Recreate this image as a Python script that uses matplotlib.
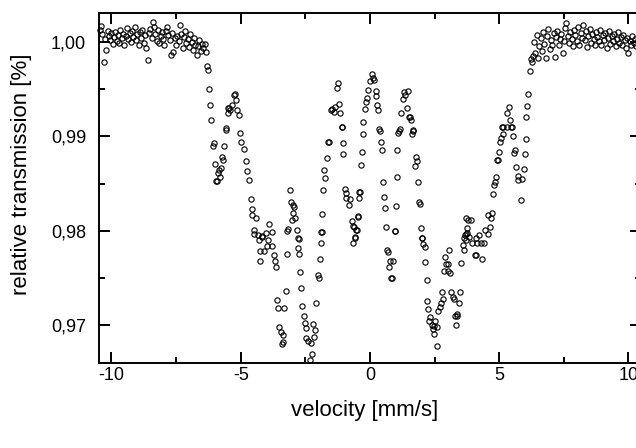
import numpy as np
import matplotlib
matplotlib.use("Agg")
import matplotlib.pyplot as plt
from matplotlib.ticker import MultipleLocator, FuncFormatter

plt.rcParams['font.family'] = ['Liberation Sans', 'DejaVu Sans']

# ---------------- data ----------------
# left baseline, -10.45 ... -6.40 mm/s
vel_left = [-10.45, -10.40, -10.35, -10.30, -10.25, -10.20, -10.15, -10.10, -10.05, -10.00,
            -9.95, -9.90, -9.85, -9.80, -9.75, -9.70, -9.65, -9.60, -9.55, -9.50,
            -9.45, -9.40, -9.35, -9.30, -9.25, -9.20, -9.15, -9.10, -9.05, -9.00,
            -8.95, -8.90, -8.85, -8.80, -8.75, -8.70, -8.65, -8.60, -8.55, -8.50,
            -8.45, -8.40, -8.35, -8.30, -8.25, -8.20, -8.15, -8.10, -8.05, -8.00,
            -7.95, -7.90, -7.85, -7.80, -7.75, -7.70, -7.65, -7.60, -7.55, -7.50,
            -7.45, -7.40, -7.35, -7.30, -7.25, -7.20, -7.15, -7.10, -7.05, -7.00,
            -6.95, -6.90, -6.85, -6.80, -6.75, -6.70, -6.65, -6.60, -6.55, -6.50,
            -6.45, -6.40]
trans_left = [1.0012, 1.0017, 1.0008, 0.9979, 1.0003, 0.9991, 1.0011, 1.0006, 1.0002, 1.0009,
              0.9998, 1.0005, 1.0010, 1.0001, 1.0007, 0.9999, 1.0012, 1.0004, 1.0008, 0.9997,
              1.0006, 1.0014, 1.0003, 1.0009, 1.0000, 1.0011, 1.0005, 1.0015, 1.0002, 1.0008,
              0.9996, 1.0010, 1.0004, 1.0012, 0.9999, 1.0007, 0.9993, 0.9981, 1.0009, 1.0013,
              1.0004, 1.0021, 1.0016, 1.0008, 1.0001, 1.0012, 0.9999, 1.0006, 1.0010, 1.0003,
              0.9997, 1.0011, 1.0015, 1.0007, 1.0002, 0.9986, 1.0009, 0.9989, 1.0004, 0.9996,
              1.0006, 1.0001, 1.0018, 1.0008, 0.9993, 1.0005, 1.0011, 0.9999, 1.0003, 0.9994,
              1.0008, 1.0000, 0.9991, 1.0004, 0.9997, 0.9986, 0.9995, 1.0002, 0.9990, 0.9998,
              0.9993, 0.9998]

# absorption region
vel_mid = [-6.36, -6.32, -6.26, -6.22, -6.18, -6.13, -6.09, -6.05, -6.00, -5.96,
           -5.90, -5.86, -5.83, -5.79, -5.77, -5.71, -5.67, -5.64, -5.57, -5.55,
           -5.51, -5.48, -5.45, -5.40, -5.34, -5.25, -5.23, -5.18, -5.13, -5.06,
           -5.02, -4.97, -4.87, -4.78, -4.74, -4.67, -4.61, -4.57, -4.55, -4.48,
           -4.47, -4.41, -4.35, -4.30, -4.26, -4.24, -4.18, -4.16, -4.09, -4.03,
           -4.00, -3.93, -3.90, -3.79, -3.77, -3.70, -3.67, -3.62, -3.58, -3.54,
           -3.51, -3.45, -3.42, -3.38, -3.36, -3.32, -3.25, -3.21, -3.19, -3.16,
           -3.10, -3.06, -3.03, -2.99, -2.97, -2.93, -2.89, -2.84, -2.80, -2.78,
           -2.76, -2.74, -2.70, -2.65, -2.61, -2.57, -2.51, -2.48, -2.47, -2.40,
           -2.33, -2.29, -2.25, -2.20, -2.16, -2.13, -2.07, -2.01, -1.98, -1.94,
           -1.90, -1.88, -1.86, -1.84, -1.80, -1.77, -1.73, -1.68, -1.62, -1.58,
           -1.51, -1.45, -1.38, -1.35, -1.26, -1.22, -1.20, -1.15, -1.10, -1.08,
           -1.06, -1.03, -0.97, -0.93, -0.91, -0.80, -0.78, -0.70, -0.65, -0.64,
           -0.61, -0.59, -0.57, -0.55, -0.52, -0.48, -0.46, -0.44, -0.42, -0.40,
           -0.35, -0.31, -0.27, -0.25, -0.20, -0.16, -0.10, -0.07, 0.01, 0.06,
           0.12, 0.16, 0.23, 0.25, 0.27, 0.33, 0.36, 0.38, 0.42, 0.46,
           0.50, 0.54, 0.59, 0.62, 0.64, 0.70, 0.74, 0.77, 0.83, 0.87,
           0.91, 0.95, 0.98, 1.00, 1.04, 1.06, 1.10, 1.13, 1.15, 1.19,
           1.26, 1.32, 1.36, 1.45, 1.48, 1.52, 1.56, 1.58, 1.64, 1.67,
           1.68, 1.74, 1.78, 1.81, 1.85, 1.88, 1.93, 1.97, 2.00, 2.02,
           2.06, 2.12, 2.13, 2.19, 2.20, 2.25, 2.29, 2.33, 2.39, 2.42,
           2.46, 2.48, 2.52, 2.59, 2.61, 2.65, 2.70, 2.76, 2.78, 2.83,
           2.87, 2.91, 2.96, 3.01, 3.03, 3.04, 3.09, 3.15, 3.22, 3.26,
           3.28, 3.32, 3.35, 3.38, 3.45, 3.49, 3.52, 3.58, 3.62, 3.64,
           3.68, 3.70, 3.71, 3.73, 3.76, 3.77, 3.80, 3.84, 3.90, 3.96,
           4.07, 4.10, 4.12, 4.15, 4.22, 4.30, 4.35, 4.42, 4.46, 4.55,
           4.58, 4.65, 4.68, 4.72, 4.77, 4.80, 4.84, 4.89, 4.93, 4.97,
           5.00, 5.03, 5.08, 5.10, 5.13, 5.16, 5.30, 5.32, 5.36, 5.41,
           5.46, 5.48, 5.54, 5.57, 5.62, 5.64, 5.71, 5.74, 5.84, 5.88,
           5.94, 5.99, 6.03, 6.05, 6.09, 6.13, 6.18, 6.22]
trans_mid = [0.9989, 0.9974, 0.9970, 0.9950, 0.9933, 0.9917, 0.9890, 0.9893, 0.9871, 0.9853,
             0.9853, 0.9861, 0.9864, 0.9857, 0.9867, 0.9878, 0.9875, 0.9890, 0.9907, 0.9909,
             0.9930, 0.9925, 0.9930, 0.9928, 0.9933, 0.9944, 0.9945, 0.9938, 0.9928, 0.9922,
             0.9904, 0.9894, 0.9887, 0.9874, 0.9863, 0.9854, 0.9834, 0.9817, 0.9823, 0.9801,
             0.9797, 0.9814, 0.9796, 0.9790, 0.9779, 0.9768, 0.9795, 0.9794, 0.9779, 0.9798,
             0.9784, 0.9790, 0.9807, 0.9784, 0.9799, 0.9775, 0.9768, 0.9762, 0.9727, 0.9718,
             0.9698, 0.9693, 0.9680, 0.9683, 0.9690, 0.9718, 0.9736, 0.9776, 0.9800, 0.9802,
             0.9843, 0.9831, 0.9811, 0.9827, 0.9819, 0.9825, 0.9814, 0.9801, 0.9782, 0.9793,
             0.9791, 0.9776, 0.9757, 0.9740, 0.9721, 0.9710, 0.9703, 0.9697, 0.9687, 0.9684,
             0.9664, 0.9681, 0.9670, 0.9702, 0.9688, 0.9695, 0.9724, 0.9753, 0.9750, 0.9770,
             0.9787, 0.9799, 0.9799, 0.9818, 0.9843, 0.9864, 0.9856, 0.9877, 0.9894, 0.9894,
             0.9928, 0.9929, 0.9926, 0.9931, 0.9951, 0.9956, 0.9934, 0.9925, 0.9910, 0.9910,
             0.9893, 0.9881, 0.9844, 0.9835, 0.9840, 0.9827, 0.9834, 0.9810, 0.9805, 0.9787,
             0.9804, 0.9794, 0.9793, 0.9801, 0.9801, 0.9815, 0.9816, 0.9835, 0.9841, 0.9841,
             0.9870, 0.9883, 0.9902, 0.9915, 0.9929, 0.9936, 0.9941, 0.9949, 0.9958, 0.9966,
             0.9962, 0.9959, 0.9948, 0.9943, 0.9933, 0.9928, 0.9908, 0.9906, 0.9894, 0.9885,
             0.9852, 0.9836, 0.9824, 0.9804, 0.9780, 0.9778, 0.9762, 0.9768, 0.9750, 0.9750,
             0.9768, 0.9800, 0.9800, 0.9826, 0.9857, 0.9885, 0.9904, 0.9906, 0.9908, 0.9925,
             0.9939, 0.9947, 0.9944, 0.9930, 0.9948, 0.9920, 0.9920, 0.9917, 0.9902, 0.9906,
             0.9907, 0.9869, 0.9878, 0.9874, 0.9852, 0.9831, 0.9828, 0.9803, 0.9793, 0.9793,
             0.9786, 0.9783, 0.9767, 0.9748, 0.9726, 0.9717, 0.9705, 0.9709, 0.9701, 0.9696,
             0.9691, 0.9699, 0.9705, 0.9678, 0.9698, 0.9715, 0.9720, 0.9724, 0.9735, 0.9728,
             0.9758, 0.9772, 0.9765, 0.9765, 0.9758, 0.9780, 0.9756, 0.9735, 0.9730, 0.9728,
             0.9710, 0.9700, 0.9712, 0.9710, 0.9724, 0.9735, 0.9766, 0.9785, 0.9780, 0.9793,
             0.9796, 0.9790, 0.9797, 0.9814, 0.9798, 0.9803, 0.9811, 0.9794, 0.9811, 0.9787,
             0.9775, 0.9793, 0.9775, 0.9787, 0.9796, 0.9787, 0.9770, 0.9787, 0.9801, 0.9797,
             0.9817, 0.9804, 0.9814, 0.9819, 0.9839, 0.9848, 0.9852, 0.9857, 0.9875, 0.9875,
             0.9883, 0.9894, 0.9898, 0.9910, 0.9910, 0.9902, 0.9910, 0.9925, 0.9931, 0.9917,
             0.9910, 0.9910, 0.9900, 0.9882, 0.9886, 0.9868, 0.9858, 0.9854, 0.9833, 0.9855,
             0.9865, 0.9881, 0.9897, 0.9920, 0.9932, 0.9945, 0.9969, 0.9982]

# right baseline, 6.25 ... 10.50 mm/s
vel_right = [6.25, 6.30, 6.35, 6.40, 6.45, 6.50, 6.55, 6.60, 6.65, 6.70,
             6.75, 6.80, 6.85, 6.90, 6.95, 7.00, 7.05, 7.10, 7.15, 7.20,
             7.25, 7.30, 7.35, 7.40, 7.45, 7.50, 7.55, 7.60, 7.65, 7.70,
             7.75, 7.80, 7.85, 7.90, 7.95, 8.00, 8.05, 8.10, 8.15, 8.20,
             8.25, 8.30, 8.35, 8.40, 8.45, 8.50, 8.55, 8.60, 8.65, 8.70,
             8.75, 8.80, 8.85, 8.90, 8.95, 9.00, 9.05, 9.10, 9.15, 9.20,
             9.25, 9.30, 9.35, 9.40, 9.45, 9.50, 9.55, 9.60, 9.65, 9.70,
             9.75, 9.80, 9.85, 9.90, 9.95, 10.00, 10.05, 10.10, 10.15, 10.20,
             10.25, 10.30, 10.35, 10.40, 10.45, 10.50]
trans_right = [0.9978, 0.9985, 1.0000, 0.9988, 1.0007, 0.9983, 0.9995, 1.0004, 0.9990, 1.0010,
               0.9998, 0.9983, 1.0006, 1.0013, 0.9992, 1.0002, 0.9997, 1.0009, 0.9984, 1.0005,
               1.0011, 0.9996, 1.0003, 1.0008, 0.9988, 1.0001, 1.0014, 1.0020, 1.0006, 0.9999,
               1.0010, 1.0003, 0.9995, 1.0012, 1.0007, 1.0001, 1.0016, 0.9997, 1.0009, 1.0004,
               1.0018, 1.0002, 1.0011, 0.9994, 1.0006, 1.0013, 0.9999, 1.0008, 1.0003, 0.9996,
               1.0010, 1.0005, 1.0001, 1.0012, 0.9997, 1.0007, 1.0002, 1.0009, 0.9993, 1.0004,
               1.0011, 0.9998, 1.0006, 1.0001, 1.0008, 0.9995, 1.0003, 1.0010, 0.9999, 1.0005,
               0.9996, 1.0007, 1.0002, 0.9993, 1.0004, 0.9988, 1.0001, 0.9997, 1.0006, 0.9999,
               1.0003, 0.9995, 1.0002, 0.9998, 1.0004, 1.0000]

velocity = np.array(vel_left + vel_mid + vel_right)
transmission = np.array(trans_left + trans_mid + trans_right)

# ---------------- plot ----------------
fig = plt.figure(figsize=(6.36, 4.48), dpi=100)
# the original export cuts the right edge of the frame off
ax = fig.add_axes([0.1549, 0.189, 0.8536, 0.7813])

ax.plot(velocity, transmission, 'o', ms=3.8, mfc='none', mec='black', mew=0.8,
        clip_on=False)

ax.set_xlim(-10.5, 10.5)
ax.set_ylim(0.966, 1.003)

ax.xaxis.set_major_locator(MultipleLocator(5))
ax.xaxis.set_minor_locator(MultipleLocator(2.5))
ax.yaxis.set_major_locator(MultipleLocator(0.01))
ax.yaxis.set_minor_locator(MultipleLocator(0.005))
ax.xaxis.set_major_formatter(FuncFormatter(lambda v, p: '%d' % round(v)))
ax.yaxis.set_major_formatter(FuncFormatter(lambda v, p: ('%.2f' % v).replace('.', ',')))

ax.tick_params(which='both', direction='in', top=True, right=True, width=1.4)
ax.tick_params(which='major', length=8, labelsize=13)
ax.tick_params(which='minor', length=4)
ax.tick_params(axis='y', pad=9)
ax.tick_params(axis='x', pad=3)
for sp in ax.spines.values():
    sp.set_linewidth(1.4)

ax.set_xlabel('velocity [mm/s]', fontsize=16)
ax.set_ylabel('relative transmission [%]', fontsize=16)
ax.xaxis.set_label_coords(0.49, -0.105)
ax.yaxis.set_label_coords(-0.122, 0.54)

fig.savefig('out.png', dpi=100)
